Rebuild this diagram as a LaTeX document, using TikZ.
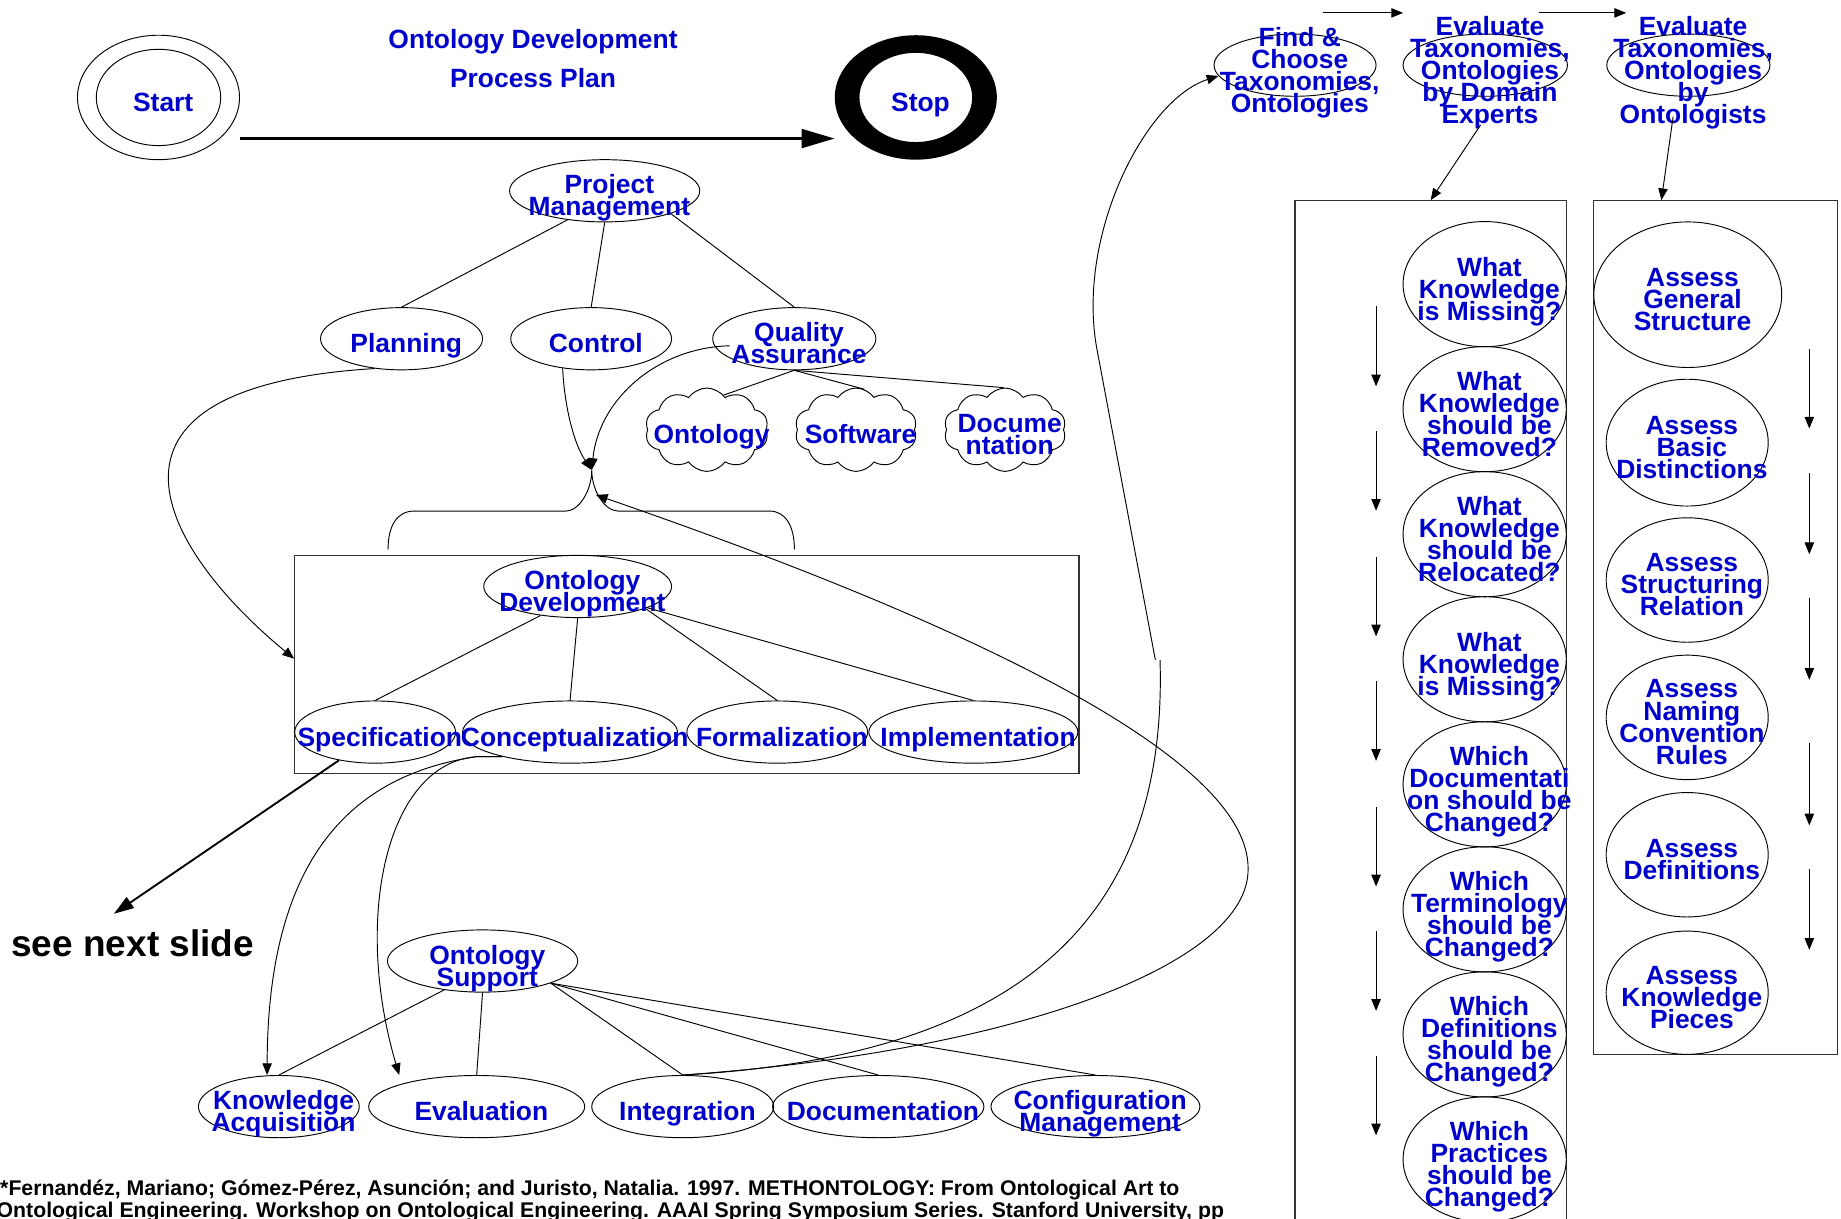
\documentclass[tikz,border=0pt]{standalone}
\usepackage{fontspec}
\setmainfont{Liberation Sans}
\usetikzlibrary{shapes.geometric,shapes.symbols,arrows.meta}
\definecolor{ontblue}{RGB}{0,0,204}
\newcommand{\nodefont}{\fontsize{22.5}{18.8}\selectfont\bfseries\lineskiplimit=-100pt\lineskip=0pt}
\newcommand{\headfont}{\fontsize{22.5}{33}\selectfont\bfseries\lineskiplimit=-100pt\lineskip=0pt}
\tikzset{
  task/.style={ellipse, draw, line width=0.8pt, inner sep=0pt},
  puff/.style={cloud, cloud puffs=10, cloud puff arc=110, aspect=1.5},
  lbl/.style={font=\nodefont, text=ontblue, align=center, inner sep=0pt},
  frame/.style={draw=black!80, line width=1pt, inner sep=0pt},
  link/.style={line width=0.8pt},
  flow/.style={link, -{Triangle[length=10pt,width=8pt]}},
  bigflow/.style={line width=2.2pt, -{Triangle[length=28pt,width=16pt]}}
}
\newcommand{\Activity}[6][]{\node[task, minimum width=#4, minimum height=#5, #1] (#2) at (#3) {};
  \node[lbl] (#2t) at ([shift={(4,6.3)}]#2) {#6\vphantom{g}};}

\begin{document}
\begin{tikzpicture}[x=1pt,y=-1pt]
\useasboundingbox (0,0) rectangle (1568,1038);
\clip (0,0) rectangle (1568,1038);
\fill[white] (0,0) rectangle (1568,1038);

\node[lbl, font=\headfont] (title) at (454,50) {Ontology Development\\Process Plan};

\Activity{start}{135,83}{138}{106}{Start}
\node[task, minimum width=106, minimum height=82] (startin) at (135,83) {};
\node[ellipse, minimum width=138, minimum height=106] (stop) at (780,83) {};
\fill[even odd rule] (stop.center) ellipse [x radius=69, y radius=53] (stop.center) ellipse [x radius=48, y radius=38];
\node[lbl] (stopt) at ([shift={(4,6.3)}]stop) {Stop\vphantom{g}};
\draw[bigflow] ([yshift=-35pt]start.east) -- ([yshift=-35pt]stop.west);

\Activity{pm}{515,162.5}{162}{53}{Project\\Management}
\Activity{plan}{342,288.5}{138}{53}{Planning}
\Activity{ctrl}{503.5,288.5}{137}{53}{Control}
\Activity{qa}{676.5,288.5}{139}{53}{Quality\\Assurance}

\Activity[puff]{cOnt}{602,366}{105}{71}{Ontology}
\Activity[puff]{cSw}{729,366}{104}{71}{Software}
\Activity[puff]{cDoc}{856,366}{104}{71}{Docume\\ntation}

\node[frame, minimum width=668, minimum height=186] (odb) at (585,566) {};
\Activity{od}{492,499.5}{160}{53}{Ontology\\Development}
\Activity{spec}{319.5,623.5}{137}{53}{Specification}
\Activity{cc}{485.5,623.5}{183}{53}{Conceptualization}
\Activity{form}{662,623.5}{154}{53}{Formalization}
\Activity{impl}{829,623.5}{178}{53}{Implementation}

\node[font=\fontsize{31.5}{36}\selectfont\bfseries, inner sep=0pt] (next) at (113,803) {see next slide};

\Activity{os}{411,818.5}{162}{53}{Ontology\\Support}
\Activity{ka}{237.5,942.5}{137}{53}{Knowledge\\Acquisition}
\Activity{ev}{406,942.5}{184}{53}{Evaluation}
\Activity{integ}{581.5,942.5}{155}{53}{Integration}
\Activity{doc}{748,942.5}{180}{53}{Documentation}
\Activity{conf}{933,942.5}{178}{53}{Configuration\\Management}

\Activity{fc}{1103,55.5}{138}{53}{Find \&\\Choose\\Taxonomies,\\Ontologies}
\Activity{de}{1265,55.5}{140}{53}{Evaluate\\Taxonomies,\\Ontologies\\by Domain\\Experts}
\Activity{eo}{1438,55.5}{139}{53}{Evaluate\\Taxonomies,\\Ontologies\\by\\Ontologists}

\node[frame, minimum width=231, minimum height=889] (col1) at (1218.5,615.5) {};
\Activity{q1}{1264.5,242}{139}{106.6}{What\\Knowledge\\is Missing?}
\Activity{q2}{1264.5,348.5}{139}{106.6}{What\\Knowledge\\should be\\Removed?}
\Activity{q3}{1264.5,455}{139}{106.6}{What\\Knowledge\\should be\\Relocated?}
\Activity{q4}{1264.5,561.5}{139}{106.6}{What\\Knowledge\\is Missing?}
\Activity{q5}{1264.5,668}{139}{106.6}{Which\\Documentati\\on should be\\Changed?}
\Activity{q6}{1264.5,774.5}{139}{106.6}{Which\\Terminology\\should be\\Changed?}
\Activity{q7}{1264.5,881}{139}{106.6}{Which\\Definitions\\should be\\Changed?}
\Activity{q8}{1264.5,987.5}{139}{106.6}{Which\\Practices\\should be\\Changed?}

\node[frame, minimum width=208, minimum height=727] (col2) at (1461,534.5) {};
\Activity{a1}{1437.5,251}{160}{124}{Assess\\General\\Structure}
\Activity{a2}{1437,377}{138}{108}{Assess\\Basic\\Distinctions}
\Activity{a3}{1437,494}{138}{106}{Assess\\Structuring\\Relation}
\Activity{a4}{1437,611}{138}{106}{Assess\\Naming\\Convention\\Rules}
\Activity{a5}{1437,728}{138}{106}{Assess\\Definitions}
\Activity{a6}{1437,845.5}{138}{105}{Assess\\Knowledge\\Pieces}

\draw[link] (pm.-142) -- (plan.north);
\draw[link] (pm.south) -- (ctrl.north);
\draw[link] (pm.-19) -- (qa.north);

\draw[link] (qa.south) -- (cOnt.64);
\draw[link] (qa.south) -- (cSw.78);
\draw[link] (qa.south) -- (cDoc.92);

\coordinate (tip) at (504,400.3);
\coordinate (tipr) at (507.5,421.5);
\draw[link] (330.5,468) .. controls (330.5,448) and (338,435.3) .. (352.6,435.3) -- (482,435.3) .. controls (493,435.3) and (504,418) .. (tip) .. controls (504,418) and (515,435.3) .. (526.6,435.3) -- (655.5,435.3) .. controls (669,435.3) and (676.6,448) .. (676.6,468);

\draw[flow] (ctrl.-134) .. controls (481,350) and (490,380) .. (tip);
\draw[flow] ([shift={(-55,6)}]qa.center) .. controls (560,296) and (510,340) .. (tip);
\draw[flow] (plan.-132) .. controls (55,330) and (140,470) .. ([yshift=5pt]odb.west);

\draw[link] (od.-142) -- (spec.north);
\draw[link] (od.south) -- (cc.north);
\draw[link] (od.-18) -- (form.north);
\draw[link] (od.-17) -- (impl.north);

\draw[line width=1.6pt, -{Triangle[length=17pt,width=11pt]}] (spec.-142) -- ([shift={(-16,-13)}]next.north);

\draw[flow] (cc.200) -- ++(-22,0) .. controls (300,660) and (228,730) .. ([xshift=-10pt]ka.north);
\draw[flow] (cc.200) -- ++(-22,0) .. controls (330,650) and (300,780) .. ([xshift=-66pt]ev.north);

\draw[link] (os.-143) -- (ka.north);
\draw[link] (os.south) -- (ev.north);
\draw[link] (os.-18) -- (integ.north);
\draw[link] (os.-18) -- (doc.north);
\draw[link] (os.-18) -- (conf.north);

\draw[flow] (integ.north) .. controls (870,895) and (1064,820) .. (1063,740) .. controls (1064,650) and (850,540) .. (tipr);
\draw[flow] (integ.north) .. controls (860,900) and (995,790) .. (988,562) (984,562) -- (934,296) .. controls (917,200) and (975,85) .. (fc.188);

\coordinate (h1) at (1127,11);
\coordinate (h1e) at (1195,11);
\coordinate (h2) at (1311,11);
\coordinate (h2e) at (1385,11);
\draw[flow] (h1) -- (h1e);
\draw[flow] (h2) -- (h2e);

\draw[flow] ([shift={(-4,24)}]de.south) -- (col1.north);
\draw[flow] ([shift={(-13,17)}]eo.south) -- ([xshift=-46pt]col2.north);

\coordinate (m1) at (1172,261);
\coordinate (m1e) at (1172,329);
\coordinate (m2) at (1172,367);
\coordinate (m2e) at (1172,435);
\coordinate (m3) at (1172,474);
\coordinate (m3e) at (1172,542);
\coordinate (m4) at (1172,580);
\coordinate (m4e) at (1172,648);
\coordinate (m5) at (1172,687);
\coordinate (m5e) at (1172,755);
\coordinate (m6) at (1172,793);
\coordinate (m6e) at (1172,861);
\coordinate (m7) at (1172,899);
\coordinate (m7e) at (1172,967);
\draw[flow] (m1) -- (m1e);
\draw[flow] (m2) -- (m2e);
\draw[flow] (m3) -- (m3e);
\draw[flow] (m4) -- (m4e);
\draw[flow] (m5) -- (m5e);
\draw[flow] (m6) -- (m6e);
\draw[flow] (m7) -- (m7e);

\coordinate (n1) at (1541,297);
\coordinate (n1e) at (1541,365);
\coordinate (n2) at (1541,403);
\coordinate (n2e) at (1541,472);
\coordinate (n3) at (1541,509);
\coordinate (n3e) at (1541,579);
\coordinate (n4) at (1541,633);
\coordinate (n4e) at (1541,703);
\coordinate (n5) at (1541,740);
\coordinate (n5e) at (1541,809);
\draw[flow] (n1) -- (n1e);
\draw[flow] (n2) -- (n2e);
\draw[flow] (n3) -- (n3e);
\draw[flow] (n4) -- (n4e);
\draw[flow] (n5) -- (n5e);

\node[font=\fontsize{18.1}{19}\selectfont\bfseries, anchor=base west, inner sep=0pt] (ref1) at (0,1018) {*Fernandéz, Mariano; Gómez-Pérez, Asunción; and Juristo, Natalia. 1997. METHONTOLOGY: From Ontological Art to};
\node[font=\fontsize{18.1}{19}\selectfont\bfseries, anchor=base west, inner sep=0pt] (ref2) at (-3,1037) {Ontological Engineering. Workshop on Ontological Engineering. AAAI Spring Symposium Series. Stanford University, pp};

\end{tikzpicture}
\end{document}
